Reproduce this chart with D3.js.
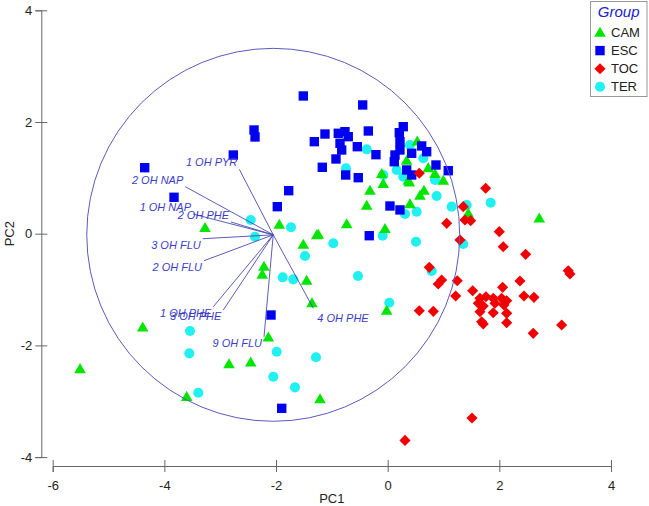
<!DOCTYPE html>
<html>
<head>
<meta charset="utf-8">
<script src="https://cdn.jsdelivr.net/npm/d3@7"></script>
<style>
  body { margin: 0; background: #fff; }
  svg { font-family: "Liberation Sans", Arial, sans-serif; }
</style>
</head>
<body>
<svg id="chart" width="649" height="506"></svg>
<script>
// scores, [PC1, PC2]
var groups = ["CAM", "ESC", "TOC", "TER"];
var colors = {CAM: "#00e600", ESC: "#0000f0", TOC: "#f00000", TER: "#20f0f0"};

var camPoints = [
  [0.53, 1.665], [0.34, 1.32], [0.369, 0.962], [-0.107, 1.082], [-0.079, 0.903],
  [-0.317, 0.784], [-0.376, 0.514], [-0.734, 0.186], [-1.243, -0.005], [-1.511, -0.184],
  [-0.048, 0.097], [0.399, 0.544], [0.578, 0.693], [0.65, 0.783], [0.727, 1.189],
  [0.996, 0.962], [0.387, 0.931], [0.847, 1.082], [1.443, 0.376], [2.715, 0.287],
  [-0.018, -1.366], [-3.272, 0.115], [-1.941, 0.174], [-1.271, -0.011], [-2.215, -0.578],
  [-2.246, -0.722], [-1.451, -0.829], [-1.356, -1.229], [-2.138, -1.845], [-4.388, -1.665],
  [-5.51, -2.41], [-3.6, -2.907], [-2.842, -2.321], [-2.453, -2.292], [-1.212, -2.948]
];
var escPoints = [
  [-4.352, 1.182], [-3.827, 0.652], [-2.765, 1.409], [-2.394, 1.857], [-2.376, 1.732],
  [-1.773, 0.77], [-1.977, 0.484], [-1.511, 2.466], [-0.448, 2.305], [-1.314, 1.648],
  [-1.123, 1.785], [-0.885, 1.798], [-0.765, 1.827], [-0.706, 1.737], [-0.854, 1.619],
  [-0.824, 1.499], [-0.926, 1.338], [-0.544, 1.558], [-0.347, 1.839], [-1.171, 1.189],
  [-0.752, 1.051], [-0.527, 1.003], [-0.21, 1.415], [0.279, 1.916], [0.208, 1.809],
  [0.22, 1.648], [0.22, 1.499], [0.131, 1.409], [0.118, 1.289], [0.43, 1.44],
  [0.609, 1.571], [0.698, 1.468], [0.34, 1.141], [0.43, 1.051], [0.865, 1.23],
  [1.085, 1.128], [0.041, 0.496], [0.22, 0.426], [-0.33, -0.036], [-2.09, -1.456],
  [-1.898, -3.127]
];
var tocPoints = [
  [0.566, 1.082], [1.755, 0.813], [1.354, 0.484], [1.057, 0.186], [1.384, 0.245],
  [1.486, 0.233], [1.295, -0.113], [1.999, 0.036], [2.07, -0.233], [2.471, -0.369],
  [3.234, -0.663], [3.265, -0.722], [0.745, -0.602], [0.967, -0.829], [0.906, -0.901],
  [1.246, -0.842], [1.218, -1.116], [1.522, -1.021], [2.059, -0.96], [2.369, -0.847],
  [2.441, -1.116], [2.62, -1.139], [0.566, -1.379], [0.817, -1.39], [1.653, -1.157],
  [1.76, -1.128], [1.891, -1.157], [2.042, -1.157], [2.131, -1.2], [1.623, -1.246],
  [1.712, -1.295], [1.922, -1.246], [2.083, -1.277], [1.653, -1.397], [1.891, -1.415],
  [2.131, -1.426], [1.683, -1.576], [1.712, -1.617], [2.131, -1.594], [3.116, -1.635],
  [2.607, -1.784], [1.51, -3.3], [0.31, -3.701]
];
var terPoints = [
  [-2.453, 0.245], [-1.732, 0.115], [-2.376, -0.054], [-1.481, -0.399], [-1.88, -0.781],
  [-1.691, -0.817], [-3.54, -1.742], [-3.553, -2.142], [-1.988, -2.113], [-3.392, -2.847],
  [-2.049, -2.561], [-1.66, -2.751], [-1.284, -2.213], [-0.376, 1.511], [-0.747, 1.171],
  [0.399, 1.588], [0.638, 1.35], [0.161, 1.141], [0.279, 1.021], [-0.079, 1.051],
  [0.847, 0.962], [0.877, 0.675], [1.146, 0.484], [1.415, 0.514], [0.31, 0.353],
  [0.519, 0.394], [-0.09, -0.036], [0.507, -0.143], [-0.974, -0.172], [1.845, 0.555],
  [1.354, -0.184], [0.788, -0.668], [0.029, -1.236], [-0.532, -0.757]
];

// loading vectors (end points) and the correlation circle
var loadingNames = ["1 OH PYR", "2 OH NAP", "1 OH NAP", "2 OH PHE", "3 OH FLU",
                    "2 OH FLU", "1 OH PHE", "3 OH PHE", "9 OH FLU", "4 OH PHE"];
var loadingPC1 = [-2.658, -3.625, -3.487, -2.806, -3.313, -3.29, -3.123, -2.944, -2.215, -1.332];
var loadingPC2 = [1.153, 0.842, 0.353, 0.21, -0.09, -0.484, -1.307, -1.366, -1.845, -1.336];
var origin = [-2.05, -0.02];
var circleRadius = 3.34;

var xTicks = [-6, -4, -2, 0, 2, 4];
var yTicks = [-4, -2, 0, 2, 4];

var svg = d3.select("#chart");

var xScale = d3.scaleLinear().domain([-6, 4]).range([52.7, 611]);
var yScale = d3.scaleLinear().domain([-4, 4]).range([457.1, 10.3]);

var axisColor = "#666";
var plainNum = function(d) { return String(d); }; // keep the ascii hyphen

// x axis, set a bit below the plot
var xAxis = svg.append("g")
  .attr("transform", "translate(0,466)")
  .call(d3.axisBottom(xScale).tickValues(xTicks).tickFormat(plainNum)
    .tickSizeOuter(0).tickSize(6).tickPadding(9));
xAxis.select(".domain").attr("stroke", axisColor);
xAxis.selectAll(".tick line").attr("stroke", axisColor).attr("y1", -6).attr("y2", 6);
xAxis.selectAll(".tick text").attr("fill", "#222").style("font-size", "13px")
  .style("font-family", "Liberation Sans, Arial, sans-serif");

// y axis, set a bit left of the plot
var yAxis = svg.append("g")
  .attr("transform", "translate(41.3,0)")
  .call(d3.axisLeft(yScale).tickValues(yTicks).tickFormat(plainNum)
    .tickSizeOuter(0).tickSize(6).tickPadding(3));
yAxis.select(".domain").attr("stroke", axisColor);
yAxis.selectAll(".tick line").attr("stroke", axisColor).attr("x1", -6).attr("x2", 6);
yAxis.selectAll(".tick text").attr("fill", "#222").style("font-size", "13px")
  .style("font-family", "Liberation Sans, Arial, sans-serif");

svg.append("text")
  .attr("x", (xScale(-6) + xScale(4)) / 2).attr("y", 503)
  .attr("text-anchor", "middle").attr("fill", "#222").style("font-size", "13px")
  .text("PC1");
svg.append("text")
  .attr("transform", "translate(14," + ((yScale(-4) + yScale(4)) / 2) + ")rotate(-90)")
  .attr("text-anchor", "middle").attr("fill", "#222").style("font-size", "13px")
  .text("PC2");

// markers
var symbols = {
  CAM: d3.symbol().type(d3.symbolTriangle).size(58),
  ESC: d3.symbol().type(d3.symbolSquare).size(88),
  TOC: d3.symbol().type(d3.symbolSquare).size(62),
  TER: d3.symbol().type(d3.symbolCircle).size(80)
};
var rotation = {CAM: 0, ESC: 0, TOC: 45, TER: 0};
var pointsByGroup = {CAM: camPoints, ESC: escPoints, TOC: tocPoints, TER: terPoints};
var drawOrder = ["TER", "CAM", "ESC", "TOC"];

var marks = svg.append("g");
drawOrder.forEach(function(gr) {
  marks.selectAll(".p" + gr)
    .data(pointsByGroup[gr])
    .enter().append("path")
      .attr("class", "p" + gr)
      .attr("d", symbols[gr])
      .attr("fill", colors[gr])
      .attr("transform", function(d) {
        var dy = gr == "CAM" ? 1.5 : 0;
        return "translate(" + xScale(d[0]) + "," + (yScale(d[1]) + dy) + ")rotate(" + rotation[gr] + ")";
      });
});

// correlation circle
var rPix = xScale(circleRadius) - xScale(0);
svg.append("circle")
  .attr("cx", xScale(origin[0])).attr("cy", yScale(origin[1]))
  .attr("r", rPix)
  .attr("fill", "none").attr("stroke", "#5a5ac0").attr("stroke-width", 1);

// loading vectors
var loadings = loadingNames.map(function(n, i) {
  return {name: n, x: loadingPC1[i], y: loadingPC2[i]};
});
var vec = svg.append("g");
vec.selectAll("line")
  .data(loadings)
  .enter().append("line")
    .attr("x1", xScale(origin[0])).attr("y1", yScale(origin[1]))
    .attr("x2", function(d) { return xScale(d.x); })
    .attr("y2", function(d) { return yScale(d.y); })
    .attr("stroke", "#4848b0").attr("stroke-width", 0.9);

vec.selectAll("text")
  .data(loadings)
  .enter().append("text")
    .attr("x", function(d) { return d.x > origin[0] ? xScale(d.x) + 4 : xScale(d.x) - 2; })
    .attr("y", function(d) {
      if (d.x > origin[0]) return yScale(d.y) + 14;
      return d.y < origin[1] ? yScale(d.y) + 10 : yScale(d.y) - 3;
    })
    .attr("text-anchor", function(d) { return d.x > origin[0] ? "start" : "end"; })
    .attr("fill", "#3c3cc8")
    .style("font-size", "11px").style("font-style", "italic")
    .text(function(d) { return d.name; });

// legend
var legend = svg.append("g");
legend.append("rect")
  .attr("x", 590.5).attr("y", 1.5).attr("width", 56.5).attr("height", 95)
  .attr("fill", "#fff").attr("stroke", "#999");
legend.append("text")
  .attr("x", 618.7).attr("y", 17).attr("text-anchor", "middle")
  .attr("fill", "#2020d0").style("font-size", "15px").style("font-style", "italic")
  .text("Group");
groups.forEach(function(gr, i) {
  var yy = 32.5 + i * 18.1;
  legend.append("path")
    .attr("d", symbols[gr])
    .attr("fill", colors[gr])
    .attr("transform", "translate(600," + (yy + (gr == "CAM" ? 1 : 0)) + ")rotate(" + rotation[gr] + ")");
  legend.append("text")
    .attr("x", 611).attr("y", yy + 4.5)
    .attr("fill", "#222").style("font-size", "13px")
    .text(gr);
});
</script>
</body>
</html>
